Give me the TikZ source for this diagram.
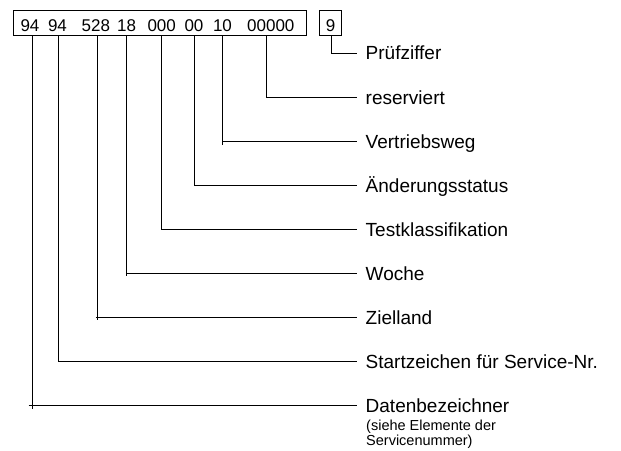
\documentclass[tikz,border=0pt]{standalone}
\usepackage{fontspec}
\setmainfont{Liberation Sans}
\begin{document}
\begin{tikzpicture}[x=1pt,y=-1pt,
  conn/.style={line width=1pt, black},
  frame/.style={draw, line width=1pt, inner sep=0pt, anchor=north west},
  digits/.style={font=\fontsize{17}{20}\selectfont, inner sep=0pt, text height=12.2pt, text depth=0pt},
  lab/.style={anchor=west, font=\fontsize{19}{22}\selectfont, inner xsep=8.5pt, inner ysep=0pt, text height=13.6pt, text depth=0pt},
  sublab/.style={anchor=base west, font=\fontsize{14.5}{16}\selectfont, inner sep=0pt}]
\useasboundingbox (0,0) rectangle (621,450);
% number boxes
\node[frame, minimum width=293pt, minimum height=25pt] (box) at (13,10) {};
\node[frame, minimum width=21.5pt, minimum height=25pt] (nine) at (319,10) {};
% digit groups
\node[digits] (g1) at (30,25.5) {94};
\node[digits] (g2) at (57.5,25.5) {94};
\node[digits] (g3) at (95.8,25.5) {528};
\node[digits] (g4) at (126.7,25.5) {18};
\node[digits] (g5) at (161.7,25.5) {000};
\node[digits] (g6) at (194,25.5) {00};
\node[digits] (g7) at (222.5,25.5) {10};
\node[digits] (g8) at (270.8,25.5) {00000};
\node[digits] (g9) at (330.5,25.5) {9};
% line starts on the box bottoms
\coordinate (t1) at (32.7,35);
\coordinate (t2) at (58.3,35);
\coordinate (t3) at (97.3,35);
\coordinate (t4) at (126,35);
\coordinate (t5) at (161.7,35);
\coordinate (t6) at (194.3,35);
\coordinate (t7) at (222.7,35);
\coordinate (t8) at (266.7,35);
\coordinate (t9) at (331.5,35);
% labels
\node[lab] (l9) at (357,53) {Prüfziffer};
\node[lab] (l8) at (357,97.3) {reserviert};
\node[lab] (l7) at (357,141.2) {Vertriebsweg};
\node[lab] (l6) at (357,185.3) {Änderungsstatus};
\node[lab] (l5) at (357,229.4) {Testklassifikation};
\node[lab] (l4) at (357,273.5) {Woche};
\node[lab] (l3) at (357,317.6) {Zielland};
\node[lab] (l2) at (357,361.7) {Startzeichen für Service-Nr.};
\node[lab] (l1) at (357,405.8) {Datenbezeichner};
\node[sublab] (l1b) at (366,430) {(siehe Elemente der};
\node[sublab] (l1c) at (366,445.5) {Servicenummer)};
% connectors
\draw[conn] (t9) |- (l9.west);
\draw[conn] (t8) |- (l8.west);
\draw[conn] (t7) |- (l7.west);
\draw[conn] (t6) |- (l6.west);
\draw[conn] (t5) |- (l5.west);
\draw[conn] (t4) |- (l4.west);
\draw[conn] (t3) |- (l3.west);
\draw[conn] (t2) |- (l2.west);
\draw[conn] (t1) |- (l1.west);
% small overshoots at some corners
\draw[conn] (t7 |- l7.west) -- ++(0,4);
\draw[conn] (t4 |- l4.west) -- ++(0,2);
\draw[conn] (t3 |- l3.west) ++(-1.5,0) -- ++(1.5,0) -- ++(0,2);
\draw[conn] (t1 |- l1.west) ++(-4,0) -- ++(4,0) -- ++(0,3.5);
\end{tikzpicture}
\end{document}
